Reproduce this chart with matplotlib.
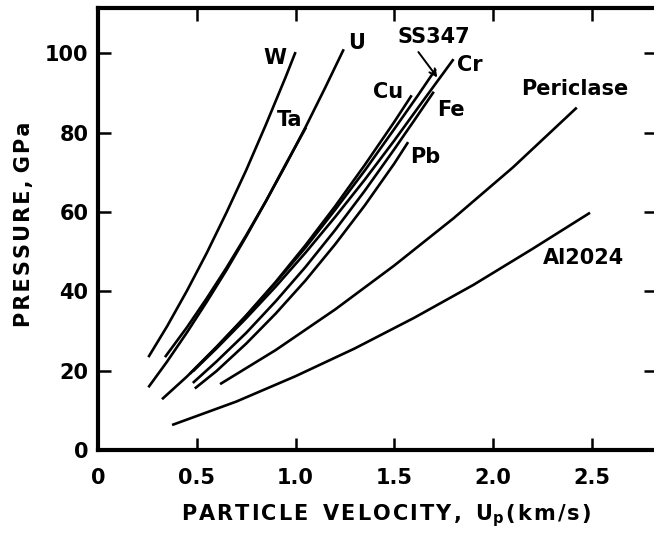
import matplotlib
matplotlib.use("Agg")
import matplotlib.pyplot as plt

# ---- data ----
W_up = [0.255, 0.35, 0.45, 0.55, 0.65, 0.75, 0.85, 0.95, 1.00]
W_p = [23.4, 31.2, 40.1, 49.6, 59.8, 70.5, 82.0, 94.0, 100.3]

U_up = [0.339, 0.45, 0.55, 0.65, 0.75, 0.85, 0.95, 1.05, 1.15, 1.244]
U_p = [23.4, 30.9, 38.2, 45.9, 54.1, 62.7, 71.8, 81.3, 91.3, 101.0]

Ta_up = [0.255, 0.35, 0.45, 0.55, 0.65, 0.75, 0.85, 0.95, 1.053]
Ta_p = [15.8, 22.3, 29.6, 37.3, 45.3, 53.8, 62.7, 72.0, 81.3]

Cu_up = [0.324, 0.45, 0.60, 0.75, 0.90, 1.05, 1.20, 1.35, 1.50, 1.588]
Cu_p = [12.8, 18.5, 25.9, 33.9, 42.4, 51.6, 61.4, 71.8, 82.7, 89.4]

SS347_up = [0.465, 0.60, 0.75, 0.90, 1.05, 1.20, 1.35, 1.50, 1.62, 1.71]
SS347_p = [19.2, 26.0, 33.8, 42.2, 51.0, 60.5, 70.4, 80.9, 89.4, 96.0]

Cr_up = [0.48, 0.60, 0.75, 0.90, 1.05, 1.20, 1.35, 1.50, 1.65, 1.80]
Cr_p = [19.8, 25.6, 33.2, 41.2, 49.7, 58.7, 68.1, 78.0, 88.3, 98.5]

Fe_up = [0.48, 0.60, 0.75, 0.90, 1.05, 1.20, 1.35, 1.50, 1.60, 1.70]
Fe_p = [16.9, 22.3, 29.5, 37.5, 46.1, 55.4, 65.3, 75.8, 83.0, 90.3]

Pb_up = [0.49, 0.60, 0.75, 0.90, 1.05, 1.20, 1.35, 1.50, 1.57]
Pb_p = [15.5, 19.9, 26.8, 34.4, 42.7, 51.8, 61.6, 72.2, 77.6]

Per_up = [0.618, 0.90, 1.20, 1.50, 1.80, 2.10, 2.424]
Per_p = [16.6, 25.2, 35.4, 46.5, 58.4, 71.2, 86.3]

Al_up = [0.375, 0.70, 1.00, 1.30, 1.60, 1.90, 2.20, 2.491]
Al_p = [6.3, 12.2, 18.6, 25.6, 33.3, 41.6, 50.7, 59.8]

curves = [
    (W_up, W_p), (U_up, U_p), (Ta_up, Ta_p), (Cu_up, Cu_p),
    (SS347_up, SS347_p), (Cr_up, Cr_p), (Fe_up, Fe_p), (Pb_up, Pb_p),
    (Per_up, Per_p), (Al_up, Al_p),
]

label_names = ["W", "U", "Ta", "SS347", "Cr", "Cu", "Fe", "Pb", "Periclase", "Al2024"]
label_x = [0.896, 1.31, 0.972, 1.699, 1.884, 1.47, 1.786, 1.656, 2.415, 2.457]
label_y = [98.7, 102.6, 83.1, 104.1, 97.0, 90.3, 85.8, 73.9, 91.1, 48.3]

x_ticks = [0, 0.5, 1.0, 1.5, 2.0, 2.5]
x_tick_labels = ["0", "0.5", "1.0", "1.5", "2.0", "2.5"]
y_ticks = [0, 20, 40, 60, 80, 100]
y_tick_labels = ["0", "20", "40", "60", "80", "100"]

# ---- figure ----
W_PX, H_PX = 654, 536
fig = plt.figure(figsize=(W_PX / 100, H_PX / 100), dpi=100)
ax = fig.add_axes([98 / W_PX, 86 / H_PX, 558 / W_PX, 442 / H_PX])

FS = 15
FW = "bold"
for up, p in curves:
    ax.plot(up, p, color="black", lw=1.9, solid_capstyle="butt",
            solid_joinstyle="round")

for name, lx, ly in zip(label_names, label_x, label_y):
    ax.text(lx, ly, name, ha="center", va="center", fontsize=FS,
            fontweight=FW, color="black")

# SS347 arrow
ax.annotate("", xy=(1.718, 93.9), xytext=(1.622, 100.3),
            arrowprops=dict(arrowstyle="->", lw=1.4, color="black",
                            mutation_scale=12, shrinkA=0, shrinkB=0))

ax.set_xlim(0, 2.825)
ax.set_ylim(0, 111.4)
ax.set_xticks(x_ticks)
ax.set_xticklabels(x_tick_labels, fontweight=FW)
ax.set_yticks(y_ticks)
ax.set_yticklabels(y_tick_labels, fontweight=FW)

ax.tick_params(axis="both", direction="in", length=9, width=1.8,
               labelsize=FS, top=True, right=True, colors="black")
ax.tick_params(axis="x", pad=13)
ax.tick_params(axis="y", pad=7)

for sp in ax.spines.values():
    sp.set_linewidth(3.0)
    sp.set_color("black")

hs = "\u200a"
xlab = (hs.join("PARTICLE") + "  " + hs.join("VELOCITY,") + "  U$_\\mathbf{p}$"
        + hs + hs.join("(km/s)"))
fig.text(386 / W_PX, 1 - 515.5 / H_PX, xlab, ha="center", va="center",
         fontsize=FS, fontweight=FW)
ylab = hs.join("PRESSURE,") + " " + hs.join("GPa")
fig.text(24 / W_PX, 1 - 224 / H_PX, ylab, ha="center", va="center",
         rotation=90, fontsize=FS, fontweight=FW)

fig.savefig("out.png", dpi=100, facecolor="white")
